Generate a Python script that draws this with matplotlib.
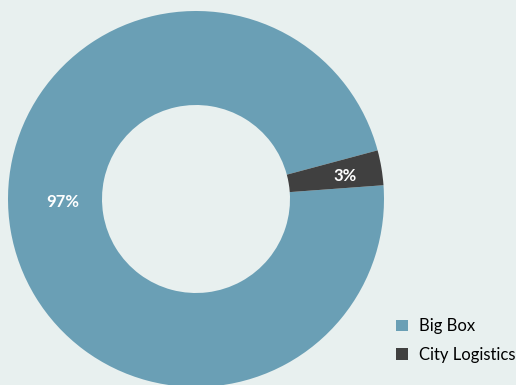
import matplotlib
matplotlib.use("Agg")
import matplotlib.pyplot as plt
import numpy as np

categories = ["Big Box", "City Logistics"]
shares = [97, 3]
colors = ["#6a9fb5", "#404040"]
bg = "#e8f0ef"

W, H = 516, 385
fig = plt.figure(figsize=(W / 100, H / 100), dpi=100, facecolor=bg)
ax = fig.add_axes([0, 0, 1, 1])
ax.set_facecolor(bg)

# donut: outer radius 1.0, ring width 0.5
start = 4.2
wedges, _ = ax.pie(
    shares,
    colors=colors,
    startangle=start,
    counterclock=False,
    radius=1.0,
    wedgeprops=dict(width=0.5, edgecolor="none"),
)

# data labels (angle in degrees, radius) placed inside the ring
label_pos = [(181.5, 0.71), (8.8, 0.80)]
for v, (theta, r) in zip(shares, label_pos):
    ax.text(r * np.cos(np.radians(theta)), r * np.sin(np.radians(theta)),
            f"{v}%", ha="center", va="center", color="white",
            fontsize=12, fontweight="bold", family="Lato")

# pixel-scaled limits so the ring sits left of centre
R = 188.0
cx, cy = 196.0, 199.0
ax.set_xlim(-cx / R, (W - cx) / R)
ax.set_ylim(-(H - cy) / R, cy / R)
ax.set_aspect("equal")
ax.axis("off")

fig.legend(wedges, categories, loc="lower right", bbox_to_anchor=(1.0, 0.058),
           frameon=False, handlelength=0.7, handleheight=0.7,
           prop=dict(family="Lato", size=12), labelspacing=0.75,
           handletextpad=0.7, borderaxespad=0.0, borderpad=0.0)

fig.savefig("out.png", dpi=100, facecolor=bg)
